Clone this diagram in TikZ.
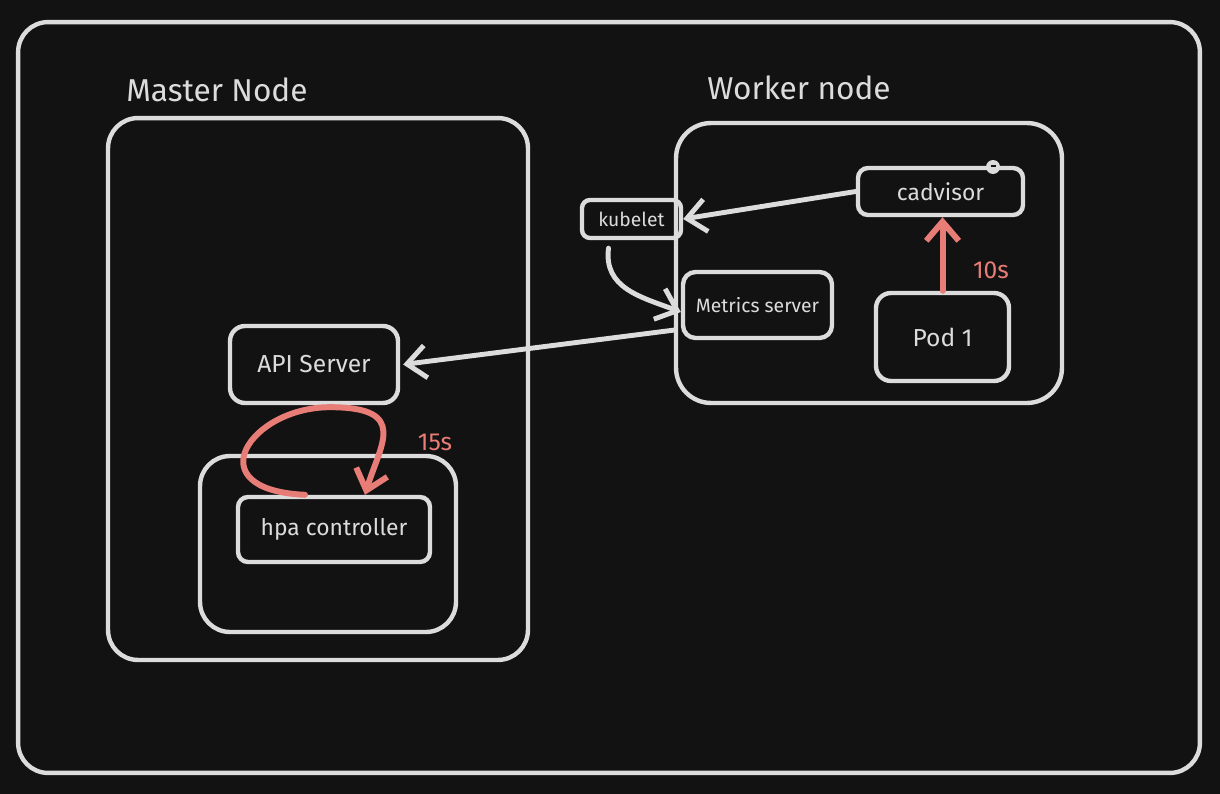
\documentclass[tikz,border=0pt]{standalone}
\usepackage{fontspec}
\setmainfont{Fira Sans}
\usepackage{tikz}
\usetikzlibrary{positioning,arrows.meta,calc}
\usepackage{xcolor}
\definecolor{board}{RGB}{18,18,18}
\definecolor{chalk}{RGB}{220,220,220}
\definecolor{salmon}{RGB}{232,124,118}

\begin{document}
\begin{tikzpicture}[
  x=0.02cm, y=-0.02cm, >={Straight Barb[length=3.8mm,width=6.5mm]},
  outline/.style={draw=chalk, line width=2.5pt, rounded corners=6mm, inner sep=0pt},
  box/.style={draw=chalk, line width=2.5pt, rounded corners=2.5mm, inner sep=0pt, text=chalk, align=center},
  title/.style={text=chalk, font=\fontsize{18}{20}\selectfont},
  flow/.style={draw=chalk, line width=2.8pt, line cap=round},
  tick/.style={draw=salmon, line width=3.4pt, line cap=round},
  rate/.style={text=salmon, font=\fontsize{14}{16}\selectfont},
]
\fill[board] (0,0) rectangle (1220,794);
\node[outline, minimum width=23.64cm, minimum height=15.02cm] (canvas) at (609,397.5) {};

\node[outline, minimum width=8.4cm, minimum height=10.84cm] (master) at (318,389) {};
\node[title] (mastertitle) at (217,90) {Master Node};
\node[outline, rounded corners=7mm, minimum width=7.72cm, minimum height=5.6cm] (worker) at (869,263) {};
\node[title] (workertitle) at (799,88) {Worker node};

\node[box, rounded corners=1.6mm, minimum width=1.98cm, minimum height=0.76cm, font=\fontsize{11}{13}\selectfont] (kubelet) at (631.5,219) {kubelet};
\node[box, rounded corners=2mm, minimum width=3.3cm, minimum height=0.94cm, font=\fontsize{13}{15}\selectfont] (cadvisor) at (940.5,191.5) {cadvisor};
\node[box, minimum width=2.98cm, minimum height=1.32cm, font=\fontsize{11}{13}\selectfont] (metrics) at (757.5,305) {Metrics server};
\node[box, rounded corners=3mm, minimum width=2.66cm, minimum height=1.76cm, font=\fontsize{14}{16}\selectfont] (pod) at (942.5,337) {Pod 1};
\node[circle, fill=chalk, inner sep=0pt, minimum size=0.28cm] (toggle) at (993,167) {\color{board}\rule[0.25ex]{0.1cm}{0.04cm}};

\node[box, rounded corners=3mm, minimum width=3.36cm, minimum height=1.54cm, font=\fontsize{14}{16}\selectfont] (api) at (314,364.5) {API Server};
\node[outline, minimum width=5.12cm, minimum height=3.52cm] (hpabox) at (328,544) {};
\node[box, rounded corners=2mm, minimum width=3.84cm, minimum height=1.3cm, font=\fontsize{13}{15}\selectfont] (hpa) at (334,529.5) {hpa controller};

\node[rate] (podrate) at (991,270) {10s};
\node[rate] (hparate) at (435,442) {15s};

\draw[flow,->] (cadvisor.west) -- (kubelet.east);
\draw[flow,->] ([xshift=-0.46cm,yshift=-0.16cm]kubelet.south) .. controls +(-5,40) and +(-40,-15) .. ([yshift=-0.14cm]metrics.west);
\draw[flow,->] ([xshift=-0.12cm,yshift=-0.5cm]metrics.west) -- ([xshift=0.06cm]api.east);
\draw[tick,->] (pod.north) -- (pod.north |- cadvisor.south);
\draw[tick,->] ([xshift=-0.58cm]hpa.north) .. controls +(-110,-5) and +(-80,0) .. ([xshift=0.32cm,yshift=-0.04cm]api.south)
  .. controls +(80,0) and +(15,-50) .. ([xshift=0.62cm]hpa.north);
\end{tikzpicture}
\end{document}
